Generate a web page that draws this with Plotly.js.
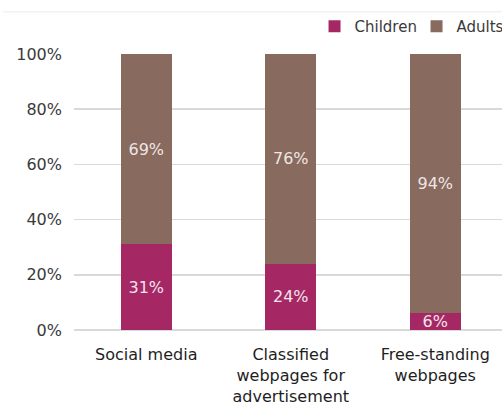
<!DOCTYPE html>
<html>
<head>
<meta charset="utf-8">
<script src="https://cdn.plot.ly/plotly-3.0.1.min.js"></script>
<style>html,body{margin:0;padding:0;overflow:hidden;background:#fff}#chart{width:502px;height:405px}</style>
</head>
<body>
<div id="chart"></div>
<script>
const categories = ["Social media", "Classified<br>webpages for<br>advertisement", "Free-standing<br>webpages"];
const children = [31, 24, 6];
const adults = [69, 76, 94];
const yTickVals = [0, 20, 40, 60, 80, 100];
const yTickText = ["0%", "20%", "40%", "60%", "80%", "100%"];

const font = "DejaVu Sans, sans-serif";
const barText = v => v.map(x => x + "%");

const traces = [
  {type: "bar", name: "Children", x: categories, y: children, text: barText(children),
   textposition: "inside", insidetextanchor: "middle", constraintext: "none",
   textfont: {family: font, size: 16, color: "#f3e4ec"},
   marker: {color: "#a52865"}, hoverinfo: "skip"},
  {type: "bar", name: "Adults", x: categories, y: adults, text: barText(adults),
   textposition: "inside", insidetextanchor: "middle", constraintext: "none",
   textfont: {family: font, size: 16, color: "#efe6e3"},
   marker: {color: "#886a5f"}, hoverinfo: "skip"}
];

const layout = {
  width: 502, height: 405,
  margin: {l: 74, r: 0, t: 54, b: 75, autoexpand: false},
  barmode: "stack",
  bargap: 0.645,
  uniformtext: {mode: false},
  paper_bgcolor: "#fff", plot_bgcolor: "#fff",
  font: {family: font, size: 16, color: "#3a3a3a"},
  showlegend: true,
  legend: {orientation: "h", x: 0.562, xanchor: "left", y: 1.1, yanchor: "middle",
           font: {family: font, size: 15, color: "#3a3a3a"}, itemwidth: 30,
           entrywidth: 57, entrywidthmode: "pixels",
           traceorder: "normal", bgcolor: "rgba(0,0,0,0)"},
  xaxis: {type: "category", range: [-0.5, 2.462], autorange: false, automargin: false,
          showgrid: false, showline: false, ticklabelstandoff: 13,
          ticks: "", tickfont: {family: font, size: 16, color: "#1e1e1e"}, fixedrange: true},
  yaxis: {range: [0, 100], autorange: false, automargin: false, tickvals: yTickVals, ticktext: yTickText,
          showgrid: true, gridcolor: "#d9d9d9", gridwidth: 1.5,
          zeroline: true, zerolinecolor: "#d9d9d9", zerolinewidth: 1.5,
          ticks: "", ticklabelstandoff: 11, showline: false,
          tickfont: {family: font, size: 16, color: "#3a3a3a"}, fixedrange: true},
  shapes: [{type: "line", xref: "paper", yref: "paper", x0: -0.165, x1: 1, y0: 1.153, y1: 1.153,
            line: {color: "#f2f2f2", width: 1.5}}]
};

Plotly.newPlot("chart", traces, layout, {displayModeBar: false, staticPlot: true});
</script>
</body>
</html>
